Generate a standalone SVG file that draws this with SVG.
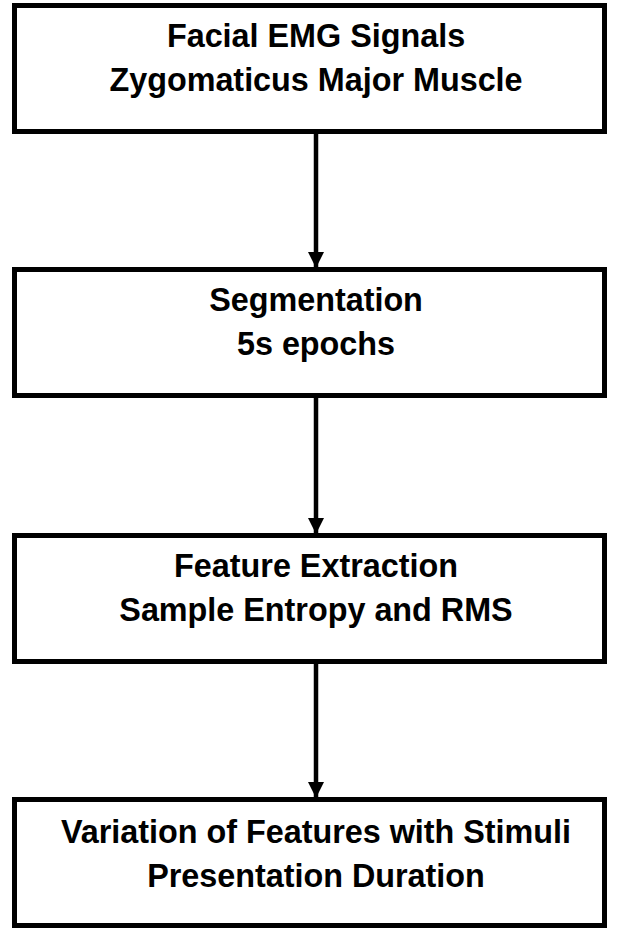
<svg xmlns="http://www.w3.org/2000/svg" width="617" height="929" viewBox="0 0 617 929">
<style>
.box{fill:#fff;stroke:#000;stroke-width:5}
.t{font-family:"Liberation Sans",Arial,sans-serif;font-weight:bold;font-size:33px;text-anchor:middle;fill:#000}
.c{stroke:#000;stroke-width:4.5;fill:none}
</style>
<defs>
<marker id="ah" markerWidth="16" markerHeight="16" refX="15" refY="8" orient="auto" markerUnits="userSpaceOnUse">
<path d="M0,0 L16,8 L0,16 Z" fill="#000"/>
</marker>
</defs>
<g id="connectors">
<line class="c" x1="316" y1="133" x2="316" y2="267" marker-end="url(#ah)"/>
<line class="c" x1="316" y1="397" x2="316" y2="533" marker-end="url(#ah)"/>
<line class="c" x1="316" y1="663" x2="316" y2="797" marker-end="url(#ah)"/>
</g>
<g id="n1">
<rect class="box" x="14.5" y="5.5" width="590" height="126"/>
<text class="t" transform="translate(316,47) scale(0.98,1)">Facial EMG Signals</text>
<text class="t" transform="translate(316,91) scale(0.98,1)">Zygomaticus Major Muscle</text>
</g>
<g id="n2">
<rect class="box" x="14.5" y="269.5" width="590" height="126"/>
<text class="t" transform="translate(316,311) scale(0.98,1)">Segmentation</text>
<text class="t" transform="translate(316,355) scale(0.98,1)">5s epochs</text>
</g>
<g id="n3">
<rect class="box" x="14.5" y="535.5" width="590" height="126"/>
<text class="t" transform="translate(316,577) scale(0.98,1)">Feature Extraction</text>
<text class="t" transform="translate(316,621) scale(0.98,1)">Sample Entropy and RMS</text>
</g>
<g id="n4">
<rect class="box" x="14.5" y="799.5" width="590" height="126"/>
<text class="t" transform="translate(316,843) scale(0.98,1)">Variation of Features with Stimuli</text>
<text class="t" transform="translate(316,887) scale(0.98,1)">Presentation Duration</text>
</g>
</svg>
